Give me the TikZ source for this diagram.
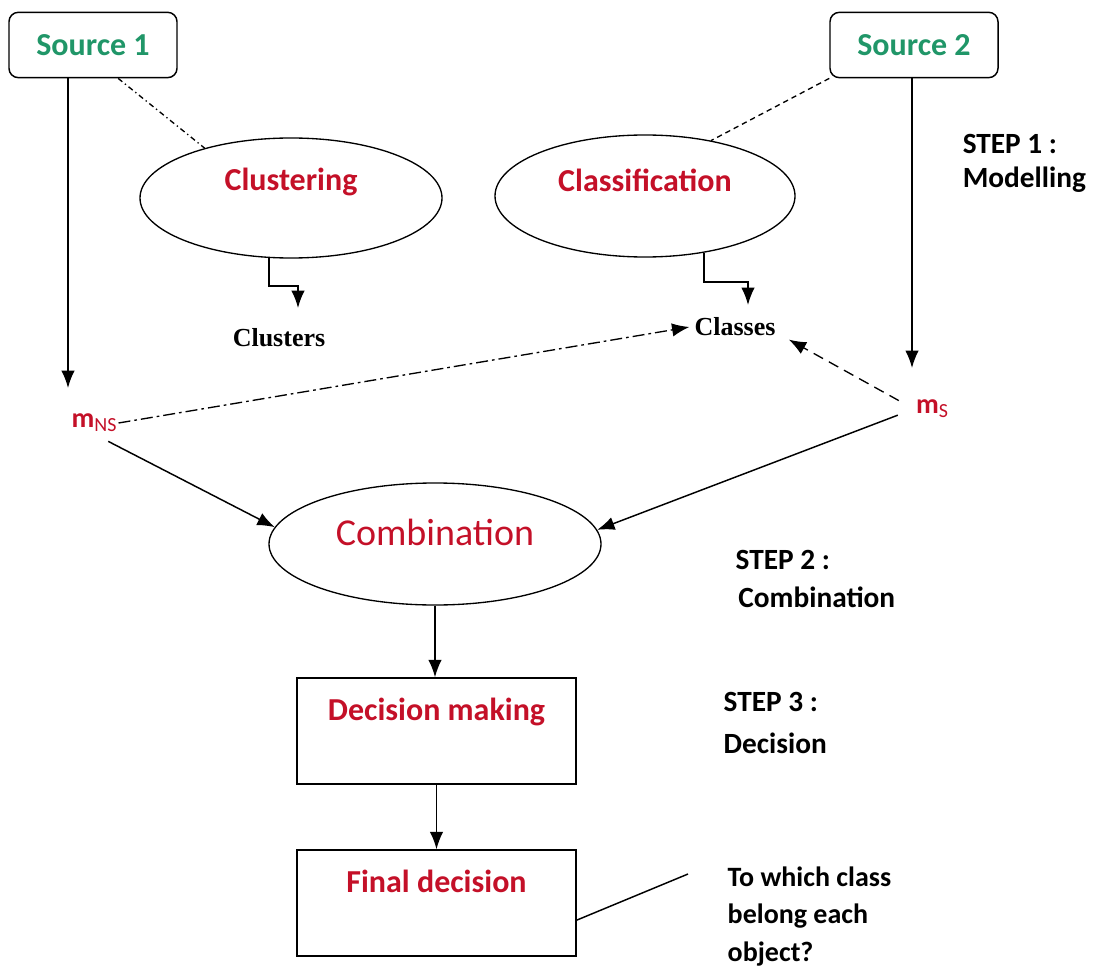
\documentclass[tikz,border=0pt]{standalone}
\usepackage{fontspec}
\setmainfont{Carlito}
\newfontfamily\clsfont{Liberation Serif}
\usetikzlibrary{shapes.geometric,arrows.meta,calc}
\definecolor{srcgreen}{RGB}{32,150,104}
\definecolor{lblred}{RGB}{196,16,40}

\tikzset{
  srcbox/.style={draw, rounded corners=7pt, minimum width=126pt, minimum height=49pt,
    text=srcgreen, font=\bfseries\fontsize{24}{28}\selectfont},
  ellbox/.style={draw, ellipse, line width=1pt, inner sep=0pt},
  recbox/.style={draw, minimum width=209pt, minimum height=79.5pt},
  redlbl/.style={text=lblred, font=\bfseries\fontsize{24}{28}\selectfont},
  outlbl/.style={font=\clsfont\bfseries\fontsize{19.5}{22}\selectfont},
  steplbl/.style={align=left, anchor=north west, inner sep=0pt},
  mass/.style={text=lblred, inner sep=1pt, font=\bfseries\fontsize{21}{22}\selectfont},
}

\begin{document}
\begin{tikzpicture}[x=0.75pt, y=-0.75pt, line width=1.1pt, >={Latex[length=13pt,width=10pt]}]
\useasboundingbox (0,0) rectangle (1094,973);

%sources and modelling
\node[srcbox] (src1) at (93,45) {Source 1};
\node[srcbox] (src2) at (914,45) {Source 2};
\node[ellbox, minimum width=226.5pt, minimum height=90pt,
  label={[redlbl,yshift=12pt]center:Clustering}] (clu) at (291,198) {};
\node[ellbox, minimum width=225pt, minimum height=91.5pt,
  label={[redlbl,yshift=12pt]center:Classification}] (cla) at (645,196) {};
\node[outlbl] (clusters) at (279,338) {Clusters};
\node[outlbl] (classes) at (735,327) {Classes};
\node[mass] (mns) at (94,423) {m\raisebox{-3pt}{\mdseries\fontsize{15}{16}\selectfont NS}};
\node[mass] (ms) at (932,409) {m\raisebox{-3pt}{\mdseries\fontsize{15}{16}\selectfont S}};

%combination and decision
\node[ellbox, minimum width=249pt, minimum height=91.5pt,
  label={[text=lblred,font=\fontsize{28.5}{32}\selectfont,yshift=9pt]center:Combination}] (comb) at (435,544) {};
\node[recbox, label={[redlbl,yshift=14pt]center:Decision making}] (dec) at (436.5,731) {};
\node[recbox, label={[redlbl,yshift=16pt]center:Final decision}] (fin) at (436.5,903) {};

%steps
\node[steplbl, font=\bfseries\fontsize{22}{25}\selectfont] (step1) at (962,134) {STEP 1 :\\Modelling};
\node[steplbl, font=\bfseries\fontsize{22}{28}\selectfont] (step2) at (735,550) {STEP 2 :\\\hspace{2pt}Combination};
\node[steplbl, font=\bfseries\fontsize{22}{31.5}\selectfont] (step3) at (723,692) {STEP 3 :\\Decision};
\node[steplbl, font=\bfseries\fontsize{21}{28}\selectfont] (quest) at (727,866) {To which class\\belong each\\object?};

\coordinate (nstip) at (68,388);
\coordinate (stip) at (912,368);
\coordinate (clstip) at (298,308);
\coordinate (clatip) at (748,305);
\coordinate (qpt) at (688,874);

%sources to masses
\draw[->] (src1.south -| nstip) -- (nstip);
\draw[->] (src2.south -| stip) -- (stip);
\draw[line width=1pt, dash pattern=on 4pt off 2.5pt on 1pt off 2.5pt] (src1.-53) -- (clu.150);
\draw[line width=1pt, dash pattern=on 4pt off 3pt] (src2.south west) -- (cla.40);

%outputs
\draw[->] (clu.-110) |- ($(clstip)+(0,-22)$) -- (clstip);
\draw[->] (cla.-44) |- ($(clatip)+(0,-23)$) -- (clatip);

%masses
\draw[->, line width=1pt, dash pattern=on 9pt off 3pt on 2pt off 3pt] (mns.east) -- (classes.west);
\draw[->, line width=1pt, dash pattern=on 8pt off 5pt, shorten <=13pt, shorten >=7pt] (ms.west) -- (classes.-10);
\draw[->, shorten <=12pt] (mns.south) -- (comb.174);
\draw[->, shorten <=13pt] (ms.west) -- (comb.5);

%decision chain
\draw[->] (comb.south) -- (comb.south |- dec.north);
\draw[->] (dec.south) -- (fin.north);
\draw (fin.-7) -- (qpt);

\end{tikzpicture}
\end{document}
